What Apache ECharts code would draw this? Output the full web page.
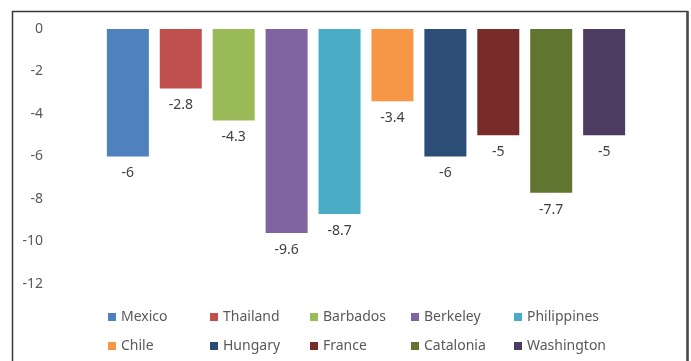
<!DOCTYPE html>
<html>
<head>
<meta charset="utf-8">
<script src="https://cdn.jsdelivr.net/npm/echarts@6/dist/echarts.min.js"></script>
<style>
  html, body { margin: 0; padding: 0; background: #fff; }
  #chart { width: 691px; height: 361px; }
</style>
</head>
<body>
<div id="chart"></div>
<script>
// data
const names = ['Mexico', 'Thailand', 'Barbados', 'Berkeley', 'Philippines',
  'Chile', 'Hungary', 'France', 'Catalonia', 'Washington']
const values = [-6, -2.8, -4.3, -9.6, -8.7, -3.4, -6, -5, -7.7, -5]
const colors = ['#4F81BD', '#C0504D', '#9BBB59', '#8064A2', '#4BACC6',
  '#F79646', '#2C4D75', '#772C2A', '#5F7530', '#4D3B62']

const font = '"Noto Sans", "Open Sans", sans-serif'
const chart = echarts.init(document.getElementById('chart'))

// legend laid out as a 5 x 2 grid, one legend per entry
const legendCols = [103, 205, 305, 406, 509]
const legendRows = [305, 334]
const legends = names.map((n, i) => ({
  left: legendCols[i % 5],
  top: legendRows[Math.floor(i / 5)],
  itemWidth: 8,
  itemHeight: 8,
  icon: 'rect',
  data: [n],
  textStyle: { color: '#595959', fontSize: 14, fontFamily: font },
  selectedMode: false
}))

chart.setOption({
  animation: false,
  color: colors,
  grid: { left: 50, right: 9, top: 29, bottom: 77 },
  graphic: [
    {
      type: 'rect',
      shape: { x: 12.5, y: 11.5, width: 675, height: 360 },
      style: { fill: 'none', stroke: '#3a3a3a', lineWidth: 1.5 },
      silent: true
    },
    {
      type: 'line',
      shape: { x1: 687.5, y1: 11, x2: 687.5, y2: 361 },
      style: { stroke: '#4a4a4a', lineWidth: 2.5 },
      silent: true
    }
  ],
  legend: legends,
  xAxis: {
    type: 'category',
    data: [''],
    axisLine: { show: false },
    axisTick: { show: false },
    axisLabel: { show: false }
  },
  yAxis: {
    type: 'value',
    min: -12,
    max: 0,
    interval: 2,
    axisLine: { show: false },
    axisTick: { show: false },
    splitLine: { show: false },
    axisLabel: { color: '#595959', fontSize: 14, margin: 7, fontFamily: font }
  },
  series: names.map((n, i) => ({
    type: 'bar',
    name: n,
    data: [values[i]],
    barWidth: 42,
    barGap: '26%',
    label: {
      show: true,
      position: 'bottom',
      distance: 10,
      color: '#404040',
      fontSize: 14,
      fontFamily: font
    }
  }))
})
</script>
</body>
</html>
